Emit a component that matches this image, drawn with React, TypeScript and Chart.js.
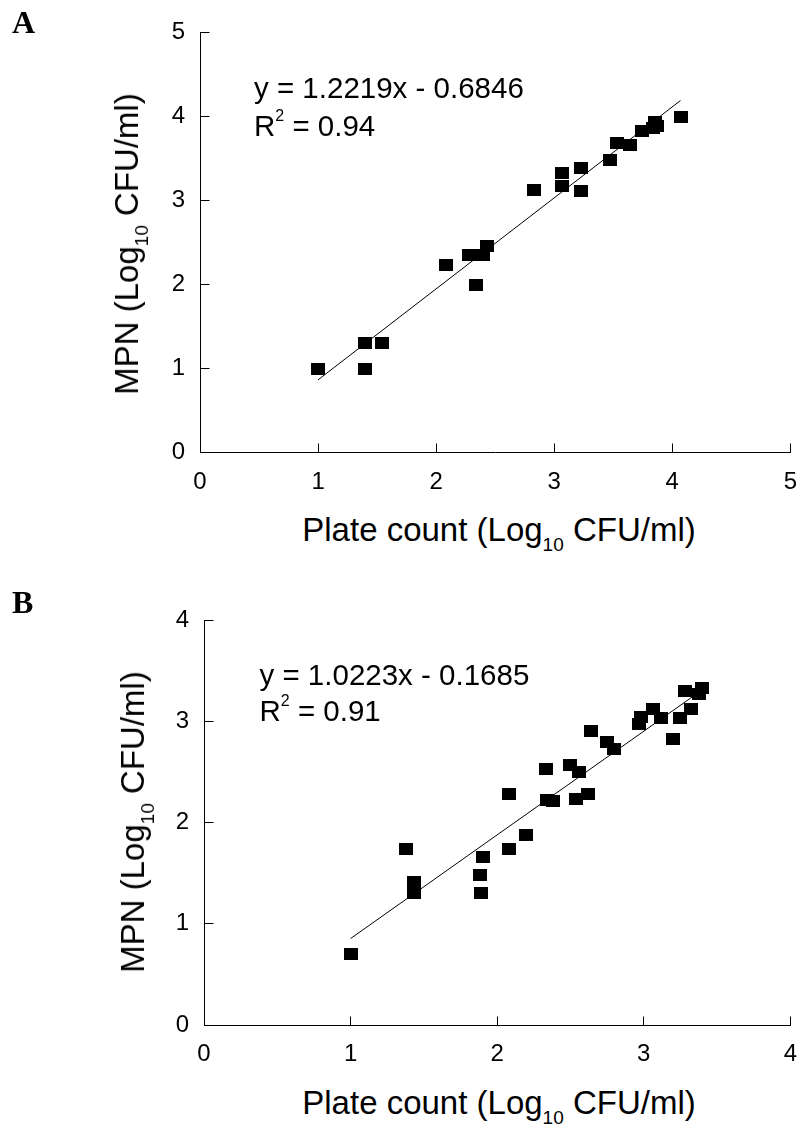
import React, { useEffect, useRef } from 'react';
import { Chart, registerables } from 'chart.js';

Chart.register(...registerables);

// ---------- Panel A data ----------
const plateCountA = [1.0, 1.4, 1.4, 1.54, 2.08, 2.28, 2.34, 2.4, 2.43, 2.83, 3.07, 3.07, 3.23, 3.23, 3.47, 3.53, 3.64, 3.74, 3.84, 3.85, 3.87, 4.07];
const mpnA = [1.0, 1.0, 1.3, 1.3, 2.23, 2.35, 2.0, 2.35, 2.46, 3.12, 3.33, 3.17, 3.39, 3.11, 3.48, 3.68, 3.66, 3.83, 3.86, 3.94, 3.89, 4.0];
const fitXA = [1.0, 4.07];
const fitYA = [0.865, 4.19];
const xTicksA = [0, 1, 2, 3, 4, 5];
const yTicksA = [0, 1, 2, 3, 4, 5];
const equationA = 'y = 1.2219x - 0.6846';
const r2A = '0.94';

// ---------- Panel B data ----------
const plateCountB = [1.0, 1.38, 1.43, 1.43, 1.88, 1.89, 1.9, 2.08, 2.08, 2.2, 2.33, 2.34, 2.38, 2.5, 2.54, 2.56, 2.62, 2.64, 2.75, 2.8, 2.97, 2.98, 3.06, 3.12, 3.2, 3.25, 3.28, 3.32, 3.38, 3.4];
const mpnB = [0.7, 1.74, 1.41, 1.3, 1.48, 1.3, 1.66, 1.74, 2.28, 1.88, 2.53, 2.22, 2.21, 2.57, 2.23, 2.5, 2.28, 2.9, 2.8, 2.73, 2.97, 3.04, 3.12, 3.03, 2.82, 3.03, 3.3, 3.12, 3.27, 3.33];
const fitXB = [1.0, 3.36];
const fitYB = [0.854, 3.27];
const xTicksB = [0, 1, 2, 3, 4];
const yTicksB = [0, 1, 2, 3, 4];
const equationB = 'y = 1.0223x - 0.1685';
const r2B = '0.91';

const SANS = "'Liberation Sans', Arial, Helvetica, sans-serif";
const SERIF = "'Liberation Serif', 'Times New Roman', serif";
const TICK_FONT = { family: SANS, size: 24 };

function alignPx(v: number) {
  return Math.round(v - 0.5) + 0.5;
}

const insideTicks = {
  id: 'insideTicks',
  afterDraw(chart: any) {
    const { ctx, chartArea } = chart;
    const xs = chart.scales.x;
    const ys = chart.scales.y;
    const bottom = alignPx(chartArea.bottom);
    const left = alignPx(chartArea.left);
    ctx.save();
    ctx.strokeStyle = '#000';
    ctx.lineWidth = 1;
    ctx.beginPath();
    xs.ticks.forEach((t: any) => {
      const px = alignPx(xs.getPixelForValue(t.value));
      ctx.moveTo(px, bottom);
      ctx.lineTo(px, bottom - 9);
    });
    ys.ticks.forEach((t: any) => {
      const py = alignPx(ys.getPixelForValue(t.value));
      ctx.moveTo(left, py);
      ctx.lineTo(left + 9, py);
    });
    ctx.stroke();
    ctx.restore();
  },
};

function makeSprite(w: number, h: number) {
  const c = document.createElement('canvas');
  c.width = w;
  c.height = h;
  const g = c.getContext('2d')!;
  g.fillStyle = '#000';
  g.fillRect(0, 0, w, h);
  return c;
}

type PanelProps = {
  top: number;
  height: number;
  padTop: number;
  padRight: number;
  yAxisWidth: number;
  xAxisHeight: number;
  xs: number[];
  ys: number[];
  fitX: number[];
  fitY: number[];
  xTicks: number[];
  yTicks: number[];
};

function Panel(p: PanelProps) {
  const ref = useRef<HTMLCanvasElement>(null);
  useEffect(() => {
    const canvas = ref.current;
    if (!canvas) return;
    const sprite = makeSprite(14, 12);
    const chart = new Chart(canvas, {
      type: 'scatter',
      data: {
        datasets: [
          {
            data: p.fitX.map((x, i) => ({ x, y: p.fitY[i] })),
            showLine: true,
            pointRadius: 0,
            borderColor: '#000',
            backgroundColor: '#000',
            borderWidth: 1,
          },
          {
            data: p.xs.map((x, i) => ({ x, y: p.ys[i] })),
            pointStyle: sprite as any,
            pointRadius: 7,
            backgroundColor: '#000',
            borderColor: '#000',
          },
        ],
      },
      options: {
        responsive: false,
        animation: false,
        devicePixelRatio: 1,
        events: [],
        layout: { padding: { top: p.padTop, right: p.padRight, left: 0, bottom: 0 } },
        plugins: { legend: { display: false }, tooltip: { enabled: false } },
        scales: {
          x: {
            type: 'linear',
            min: p.xTicks[0],
            max: p.xTicks[p.xTicks.length - 1],
            afterBuildTicks: (s: any) => {
              s.ticks = p.xTicks.map((v) => ({ value: v }));
            },
            afterFit: (s: any) => {
              s.height = p.xAxisHeight;
            },
            grid: { display: false, drawTicks: false },
            border: { display: true, color: '#000', width: 1 },
            ticks: { color: '#000', font: TICK_FONT, padding: 15, maxRotation: 0, autoSkip: false },
          },
          y: {
            type: 'linear',
            min: p.yTicks[0],
            max: p.yTicks[p.yTicks.length - 1],
            afterBuildTicks: (s: any) => {
              s.ticks = p.yTicks.map((v) => ({ value: v }));
            },
            afterFit: (s: any) => {
              s.width = p.yAxisWidth;
            },
            grid: { display: false, drawTicks: false },
            border: { display: true, color: '#000', width: 1 },
            ticks: { color: '#000', font: TICK_FONT, padding: 15, autoSkip: false },
          },
        },
      } as any,
      plugins: [insideTicks],
    });
    return () => chart.destroy();
  }, []);
  return (
    <canvas
      ref={ref}
      width={812}
      height={p.height}
      style={{ position: 'absolute', left: 0, top: p.top, width: 812, height: p.height }}
    />
  );
}

const SANS_K = 0.8465;
const SERIF_K = 0.8375;

function Txt(props: { x: number; baseline: number; size: number; family?: string; weight?: string; center?: boolean; children: any }) {
  const k = props.family === SERIF ? SERIF_K : SANS_K;
  return (
    <div
      style={{
        position: 'absolute',
        left: props.x,
        top: props.baseline - props.size * k,
        fontFamily: props.family || SANS,
        fontWeight: props.weight || 'normal',
        fontSize: props.size,
        lineHeight: `${props.size}px`,
        whiteSpace: 'nowrap',
        color: '#000',
        transform: props.center ? 'translateX(-50%)' : undefined,
      }}
    >
      {props.children}
    </div>
  );
}

function Sub(props: { children: any }) {
  return <span style={{ fontSize: 19, position: 'relative', top: 10 }}>{props.children}</span>;
}

function Sup(props: { children: any }) {
  return <span style={{ fontSize: 16, position: 'relative', top: -15 }}>{props.children}</span>;
}

function YTitle(props: { cx: number; cy: number }) {
  return (
    <div
      style={{
        position: 'absolute',
        left: props.cx,
        top: props.cy,
        fontFamily: SANS,
        fontSize: 33,
        lineHeight: '33px',
        whiteSpace: 'nowrap',
        color: '#000',
        transform: 'translate(-50%, -50%) rotate(-90deg)',
      }}
    >
      MPN (Log<Sub>10</Sub> CFU/ml)
    </div>
  );
}

function XTitle(props: { cx: number; baseline: number }) {
  return (
    <Txt x={props.cx} baseline={props.baseline} size={33} center>
      Plate count (Log<Sub>10</Sub> CFU/ml)
    </Txt>
  );
}

export default function App() {
  return (
    <div style={{ position: 'absolute', left: 0, top: 0, width: 812, height: 1129, background: '#fff', overflow: 'hidden' }}>
      <Panel
        top={0}
        height={500}
        padTop={32.5}
        padRight={11.5}
        yAxisWidth={200}
        xAxisHeight={47.5}
        xs={plateCountA}
        ys={mpnA}
        fitX={fitXA}
        fitY={fitYA}
        xTicks={xTicksA}
        yTicks={yTicksA}
      />
      <Panel
        top={560}
        height={520}
        padTop={60}
        padRight={20}
        yAxisWidth={204}
        xAxisHeight={55}
        xs={plateCountB}
        ys={mpnB}
        fitX={fitXB}
        fitY={fitYB}
        xTicks={xTicksB}
        yTicks={yTicksB}
      />

      <Txt x={12} baseline={32.7} size={32} family={SERIF} weight="bold">A</Txt>
      <Txt x={12} baseline={613} size={32} family={SERIF} weight="bold">B</Txt>

      <Txt x={254} baseline={98.3} size={29.5}>{equationA}</Txt>
      <Txt x={254} baseline={136} size={29.5}>
        R<Sup>2</Sup> = {r2A}
      </Txt>

      <Txt x={259.5} baseline={684.6} size={29.5}>{equationB}</Txt>
      <Txt x={259.5} baseline={720.6} size={29.5}>
        R<Sup>2</Sup> = {r2B}
      </Txt>

      <YTitle cx={128.6} cy={244} />
      <YTitle cx={135} cy={822} />
      <XTitle cx={499} baseline={541} />
      <XTitle cx={499} baseline={1114} />
    </div>
  );
}
